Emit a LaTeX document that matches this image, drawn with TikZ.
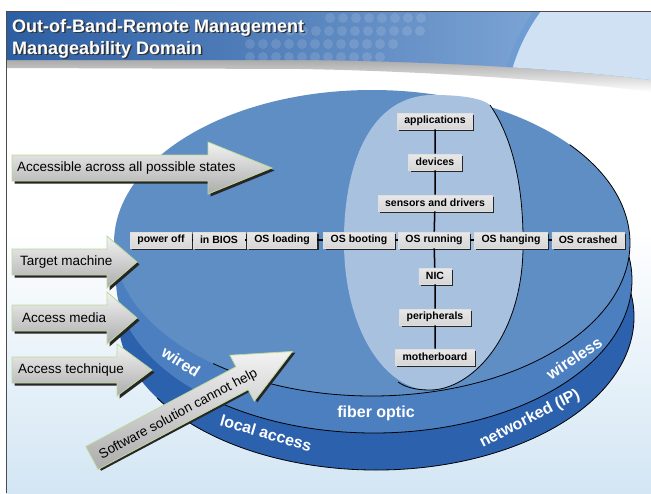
\documentclass[tikz,border=0pt]{standalone}
\usepackage{fontspec}
\setmainfont{Liberation Sans}
\usetikzlibrary{shadows}

\definecolor{diskTop}{HTML}{5F8EC5}
\definecolor{diskMid}{HTML}{4C7FC0}
\definecolor{diskLow}{HTML}{2C61AD}
\definecolor{innerDisk}{HTML}{A7C1DF}
\definecolor{bannerDark}{HTML}{2C5EA3}
\definecolor{bannerMid}{HTML}{8DB2DE}
\definecolor{bannerLight}{HTML}{CFE1F2}
\definecolor{ringBlue}{HTML}{6F9CD3}
\definecolor{paleBg}{HTML}{D3E6F4}
\definecolor{arrowEdge}{HTML}{BCD99A}

% block arrow: tail x, axis y, head start x, tip x
\newcommand{\arrowpath}[4]{(#1,#2-13) -- (#3,#2-13) -- (#3,#2-26) -- (#4,#2) -- (#3,#2+26) -- (#3,#2+13) -- (#1,#2+13) -- cycle}

\begin{document}
\begin{tikzpicture}[x=1pt,y=-1pt]
\tikzset{
  state/.style={font=\bfseries\fontsize{10.5}{12}\selectfont, top color=gray!18, bottom color=gray!32,
    draw=white!75!gray, line width=0.6pt, minimum height=16pt, inner xsep=7pt, inner ysep=0pt,
    drop shadow={shadow xshift=1.8pt, shadow yshift=-1.8pt, fill=black!85, opacity=1}},
  bigarrow/.style={draw=arrowEdge, line width=0.8pt, top color=gray!10, bottom color=gray!65},
  arrowshadow/.style={fill=black!85},
  arrowtext/.style={font=\fontsize{13.5}{15}\selectfont, inner sep=0pt, anchor=west},
  disklabel/.style={text=white, font=\bfseries\fontsize{16}{18}\selectfont},
  titletext/.style={font=\bfseries\fontsize{18}{20}\selectfont, inner sep=0pt, anchor=base west},
}
\useasboundingbox (0,0) rectangle (651,493);

% background
\fill[white] (0,0) rectangle (651,493);
\shade[top color=white, bottom color=paleBg] (6,230) rectangle (651,493);

% banner
\shade[top color=gray!70, bottom color=white] (6,58) -- (300,58) .. controls (420,59) and (560,66) .. (651,78)
  -- (651,92) .. controls (560,80) and (420,71) .. (300,69) -- (6,68) -- cycle;
\begin{scope}
\clip (6,11) -- (651,11) -- (651,80) .. controls (560,68) and (420,61) .. (300,60) -- (6,60) -- cycle;
\shade[left color=bannerDark, right color=bannerMid] (6,11) rectangle (651,90);
\foreach \row/\xa/\n in {18/330/7, 31/290/10, 44/250/11, 57/250/10}
  \foreach \i in {0,...,\n}
    \fill[white, opacity=0.12] (\xa+13*\i,\row) circle[radius=5pt];
\fill[bannerLight] (688,120) circle[radius=186pt];
\draw[ringBlue, line width=6pt] (688,120) circle[radius=186pt];
\end{scope}
\draw[black!70, line width=1pt] (6,493) -- (6,11) -- (651,11);

\node[titletext, text=black!80] (titleshadow1) at (13.5,33.5) {Out-of-Band-Remote Management};
\node[titletext, text=black!80] (titleshadow2) at (13.5,55.5) {Manageability Domain};
\node[titletext, text=white] (title1) at (12,32) {Out-of-Band-Remote Management};
\node[titletext, text=white] (title2) at (12,54) {Manageability Domain};

% disks
\coordinate (lowdisk) at (376,317);
\coordinate (middisk) at (374,280);
\coordinate (topdisk) at (372,243);

\fill[diskLow] (lowdisk) ellipse[x radius=258pt, y radius=153pt];
\draw[thick] (lowdisk) ++(212:258pt and 153pt) arc[start angle=212, end angle=385, x radius=258pt, y radius=153pt];
\fill[diskMid] (middisk) ellipse[x radius=258pt, y radius=153pt];
\draw[thick] (middisk) ++(230:258pt and 153pt) arc[start angle=230, end angle=385, x radius=258pt, y radius=153pt];
\fill[diskTop] (topdisk) ellipse[x radius=258pt, y radius=153pt];
\draw[thick] (topdisk) ++(232:258pt and 153pt) arc[start angle=232, end angle=400, x radius=258pt, y radius=153pt];

\fill[innerDisk] (433,95) .. controls (465,95) and (483,99) .. (490,105)
  .. controls (514,140) and (524,190) .. (523,250) .. controls (521,340) and (470,390) .. (430,390)
  .. controls (385,390) and (345,330) .. (344,245) .. controls (343,165) and (370,95) .. (433,95);
\draw[thick] (490,105) .. controls (514,140) and (524,190) .. (523,250)
  .. controls (521,340) and (470,390) .. (430,390) .. controls (415,390) and (405,387) .. (398,382);

\node[disklabel, rotate=-32] (wired) at (181,362) {wired};
\node[disklabel] (fiber) at (376,413) {fiber optic};
\node[disklabel, rotate=34] (wireless) at (574,358) {wireless};
\node[disklabel, rotate=-16] (local) at (266,433) {local access};
\node[disklabel, rotate=27] (networked) at (530,419) {networked (IP)};

% states
\node[state] (poweroff) at (161,240) {power off};
\node[state] (inbios) at (219,240) {in BIOS};
\node[state] (osloading) at (282,240) {OS loading};
\node[state] (osbooting) at (359,240) {OS booting};
\node[state] (osrunning) at (434,240) {OS running};
\node[state] (oshanging) at (511,240) {OS hanging};
\node[state] (oscrashed) at (588,240) {OS crashed};

\node[state] (apps) at (435,121) {applications};
\node[state] (devices) at (435,162) {devices};
\node[state] (sensors) at (435,203) {sensors and drivers};
\node[state] (nic) at (435,276) {NIC};
\node[state] (periph) at (435,317) {peripherals};
\node[state] (mboard) at (435,357) {motherboard};

\draw[line width=1.5pt] (apps) -- (devices) -- (sensors) -- (osrunning) -- (nic) -- (periph) -- (mboard);
\draw[line width=1.2pt] (poweroff) -- (inbios) -- (osloading) -- (osbooting) -- (osrunning) -- (oshanging) -- (oscrashed);

% arrows
\fill[arrowshadow, shift={(2.5,2.5)}] \arrowpath{12}{168}{208}{272};
\draw[bigarrow] \arrowpath{12}{168}{208}{272};
\node[arrowtext] (accessible) at (17,168) {Accessible across all possible states};

\fill[arrowshadow, shift={(2.5,2.5)}] \arrowpath{12}{262}{107}{137};
\draw[bigarrow] \arrowpath{12}{262}{107}{137};
\node[arrowtext] (target) at (20,262) {Target machine};

\fill[arrowshadow, shift={(2.5,2.5)}] \arrowpath{12}{318}{107}{137};
\draw[bigarrow] \arrowpath{12}{318}{107}{137};
\node[arrowtext] (media) at (22,318) {Access media};

\fill[arrowshadow, shift={(2.5,2.5)}] \arrowpath{12}{370}{117}{152};
\draw[bigarrow] \arrowpath{12}{370}{117}{152};
\node[arrowtext] (technique) at (18,370) {Access technique};

\begin{scope}[shift={(92,458)}, rotate=28]
\fill[arrowshadow, shift={(2,2.5)}] \arrowpath{0}{0}{170}{227};
\draw[bigarrow] \arrowpath{0}{0}{170}{227};
\node[arrowtext, rotate=28] (software) at (8,2) {Software solution cannot help};
\end{scope}

\end{tikzpicture}
\end{document}
